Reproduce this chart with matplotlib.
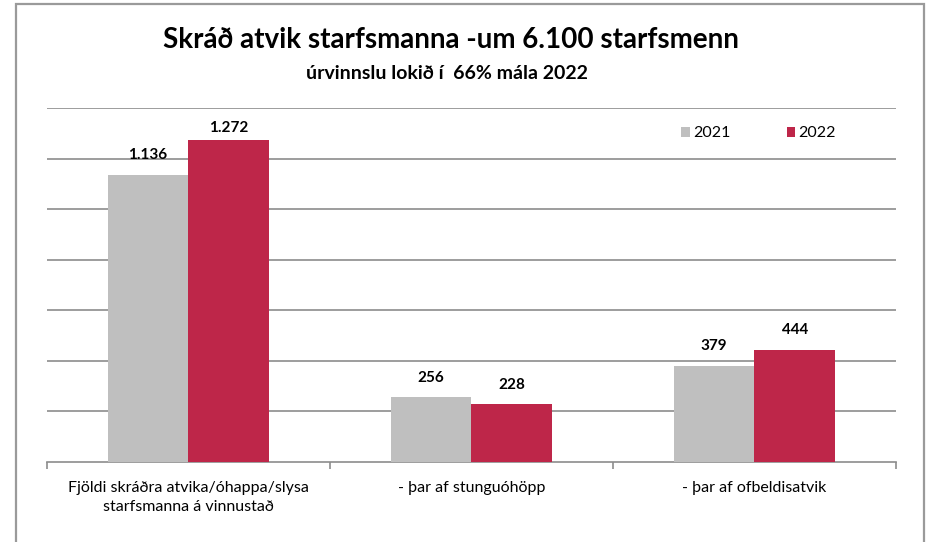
import matplotlib
matplotlib.use("Agg")
import matplotlib.pyplot as plt
from matplotlib.patches import Rectangle
import numpy as np

plt.rcParams['font.family'] = ['Lato', 'DejaVu Sans']

categories = ["Fjöldi skráðra atvika/óhappa/slysa\nstarfsmanna á vinnustað",
              "- þar af stunguóhöpp",
              "- þar af ofbeldisatvik"]
years = ["2021", "2022"]
values_2021 = [1136, 256, 379]
values_2022 = [1272, 228, 444]
colors = ["#BFBFBF", "#BE2649"]

W, H = 928, 542
fig = plt.figure(figsize=(W / 100, H / 100), dpi=100)

# grey frame round the whole chart area
fig.patches.append(Rectangle((16 / W, -0.05), (924 - 16) / W, 1.05 - 4 / H,
                             transform=fig.transFigure, fill=False,
                             edgecolor="#9A9A9A", linewidth=1.6))

ax = fig.add_axes([47 / W, (H - 462) / H, (896 - 47) / W, (462 - 108) / H])

x = np.arange(len(categories))
bw = 0.286
b1 = ax.bar(x - bw / 2, values_2021, bw, color=colors[0], label=years[0], zorder=3)
b2 = ax.bar(x + bw / 2, values_2022, bw, color=colors[1], label=years[1], zorder=3)

# value labels above the bars, kept inside the plot area
for bars, vals in ((b1, values_2021), (b2, values_2022)):
    for rect, v in zip(bars, vals):
        ax.text(rect.get_x() + rect.get_width() / 2, min(v + 78, 1320),
                f"{v:,}".replace(",", "."), ha="center", va="center",
                fontsize=11, fontweight="bold")

ax.set_xlim(-0.5, len(categories) - 0.5)
ax.set_ylim(0, 1400)
ax.set_yticks(np.arange(200, 1401, 200))
ax.yaxis.grid(True, color="#8C8C8C", linewidth=1.2, zorder=0)
ax.tick_params(axis="y", left=False, labelleft=False)

ax.set_xticks(x)
ax.set_xticklabels(categories, fontsize=11.5, linespacing=1.45)
ax.tick_params(axis="x", which="major", length=0, pad=14)
ax.set_xticks(np.arange(-0.5, len(categories), 1), minor=True)
ax.tick_params(axis="x", which="minor", length=5, color="#8C8C8C", width=1.2)

for side in ("top", "right", "left"):
    ax.spines[side].set_visible(False)
ax.spines["bottom"].set_color("#8C8C8C")
ax.spines["bottom"].set_linewidth(1.2)

fig.legend(loc="upper left", bbox_to_anchor=(667 / W, 1 - 112 / H), ncol=2,
           frameon=False, fontsize=11.5, handlelength=0.55, handleheight=0.55,
           columnspacing=3.5, handletextpad=0.2)

fig.text(451 / W, 1 - 40 / H, "Skráð atvik starfsmanna -um 6.100 starfsmenn",
         ha="center", va="center", fontsize=20, fontweight="bold")
fig.text(447 / W, 1 - 73 / H, "úrvinnslu lokið í  66% mála 2022",
         ha="center", va="center", fontsize=14, fontweight="bold")

fig.savefig("out.png", dpi=100)
